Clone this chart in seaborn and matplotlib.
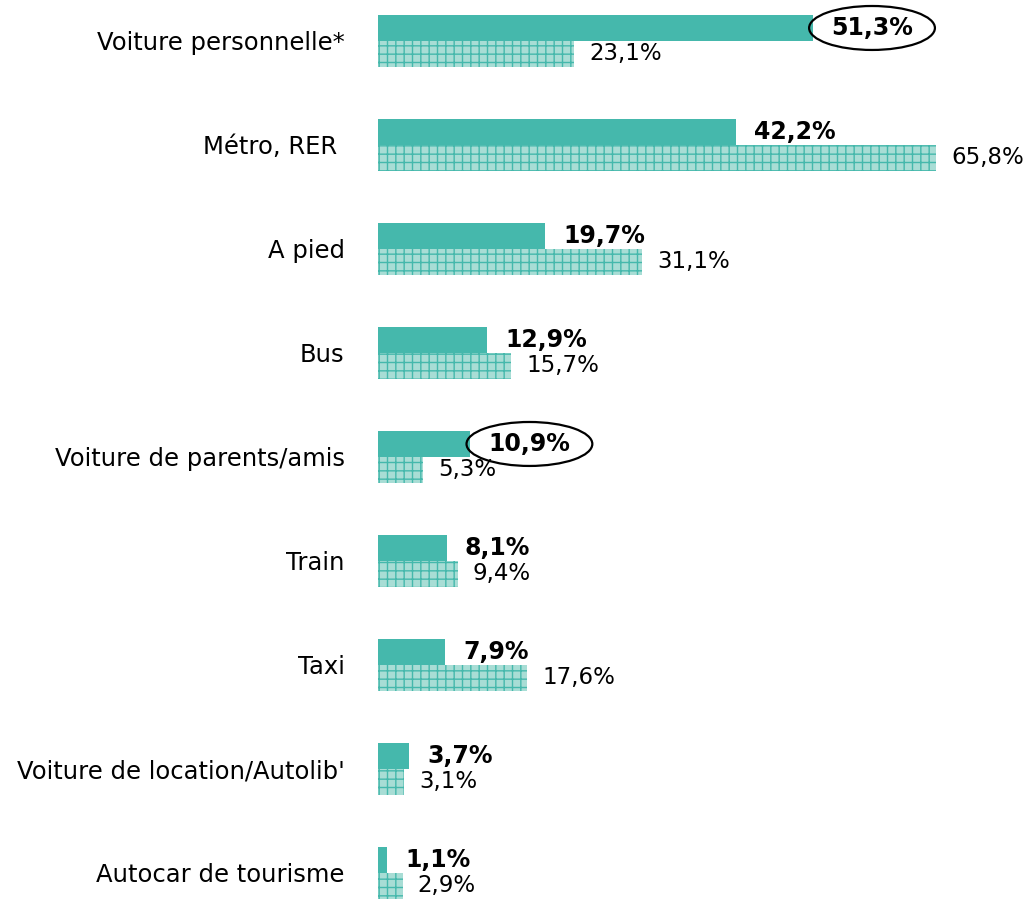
import pandas as pd
import matplotlib.pyplot as plt
import seaborn as sns

modes = ['Voiture personnelle*', 'Métro, RER ', 'A pied', 'Bus',
         'Voiture de parents/amis', 'Train', 'Taxi',
         "Voiture de location/Autolib'", 'Autocar de tourisme']
share_a = [51.3, 42.2, 19.7, 12.9, 10.9, 8.1, 7.9, 3.7, 1.1]
share_b = [23.1, 65.8, 31.1, 15.7, 5.3, 9.4, 17.6, 3.1, 2.9]
circled = ['Voiture personnelle*', 'Voiture de parents/amis']

TEAL = '#45b8ac'
LIGHT = '#a8ddd5'


def fmt(v):
    return f'{v:.1f}%'.replace('.', ',')


def main():
    df = pd.concat([
        pd.DataFrame({'mode': modes, 'share': share_a, 'group': 'a'}),
        pd.DataFrame({'mode': modes, 'share': share_b, 'group': 'b'}),
    ])

    sns.set_style('white')
    plt.rcParams['font.family'] = ['DejaVu Sans']
    plt.rcParams['hatch.linewidth'] = 1.0

    fig = plt.figure(figsize=(10.32, 9), dpi=100)
    ax = fig.add_axes([378 / 1032, 0, 1 - 378 / 1032, 1])
    sns.barplot(data=df, y='mode', x='share', hue='group', order=modes,
                palette=[TEAL, LIGHT], saturation=1, width=0.5, gap=0,
                legend=False, ax=ax, orient='h')

    for bar in ax.containers[0]:
        bar.set_facecolor(TEAL)
        bar.set_edgecolor('none')
        bar.set_linewidth(0)
    for bar in ax.containers[1]:
        bar.set_facecolor(LIGHT)
        bar.set_edgecolor(TEAL)
        bar.set_linewidth(0)
        bar.set_hatch('++')

    ax.bar_label(ax.containers[0], labels=[fmt(v) for v in share_a],
                 padding=13, fontsize=17, fontweight='bold', color='black')
    ax.bar_label(ax.containers[1], labels=[fmt(v) for v in share_b],
                 padding=11, fontsize=16.5, color='black')

    texts = ax.texts[:len(modes)]
    for name, t in zip(modes, texts):
        if name in circled:
            t.set_bbox(dict(boxstyle='ellipse,pad=0.15', fc='none',
                            ec='black', lw=1.6))

    ax.set_xlim(0, (1032 - 378) / 8.48)
    ax.set_ylim(8.26, -0.394)
    ax.set_xlabel('')
    ax.set_ylabel('')
    ax.set_xticks([])
    ax.tick_params(axis='y', length=0, pad=24, labelsize=17.5,
                   labelcolor='black')
    sns.despine(ax=ax, left=True, bottom=True)
    fig.savefig('out.png', dpi=100)


if __name__ == '__main__':
    main()
